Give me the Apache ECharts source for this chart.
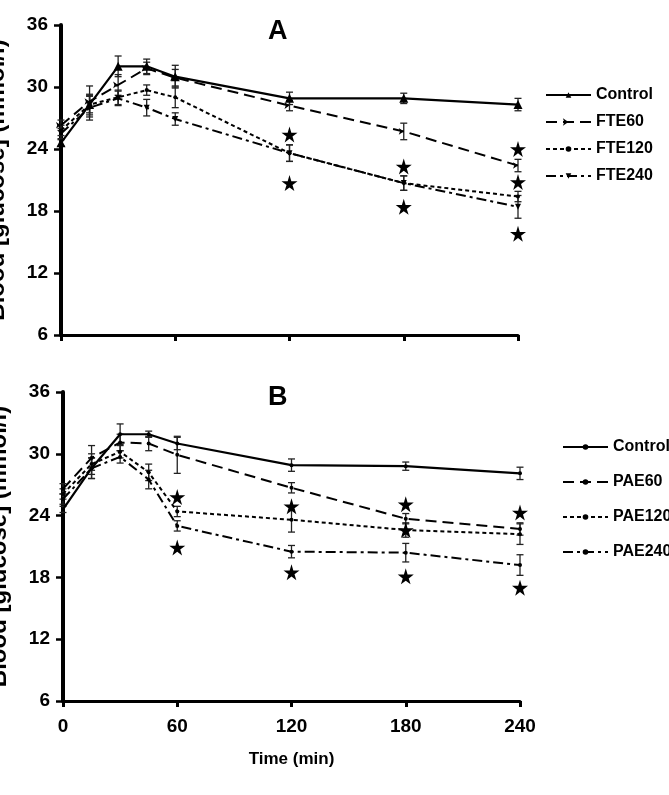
<meta charset="utf-8">
<script src="https://cdn.jsdelivr.net/npm/echarts/dist/echarts.min.js"></script>
<style>body{margin:0;background:#fff}</style>
<div id="mainA" style="position:absolute;left:0;top:0;width:669px;height:365px"></div>
<div id="mainB" style="position:absolute;left:0;top:365px;width:669px;height:430px"></div>

<script type="text/javascript">
// time points (min)
const times = [0, 15, 30, 45, 60, 120, 180, 240]

// panel A
const ctrlA = [24.6, 28.3, 32.0, 32.0, 31.0, 28.9, 28.9, 28.3]
const ctrlAErr = [0.3, 0.8, 1.0, 0.7, 1.1, 0.6, 0.5, 0.6]
const fte60 = [26.3, 28.6, 30.2, 31.8, 30.9, 28.2, 25.7, 22.4]
const fte60Err = [0.5, 1.5, 1.0, 0.6, 0.8, 0.5, 0.8, 0.6]
const fte120 = [25.8, 28.3, 29.0, 29.7, 29.0, 23.6, 20.7, 19.4]
const fte120Err = [0.5, 1.0, 0.7, 0.5, 1.0, 0.8, 0.7, 0.5]
const fte240 = [25.5, 28.0, 28.9, 28.0, 26.9, 23.6, 20.7, 18.4]
const fte240Err = [0.5, 1.2, 0.7, 0.8, 0.6, 0.8, 0.7, 1.1]
const starsA = [[120, 25.4], [120, 20.7], [180, 22.3], [180, 18.4], [240, 24.0], [240, 20.8], [240, 15.8]]

// panel B
const ctrlB = [24.6, 28.6, 31.9, 31.9, 31.0, 28.9, 28.8, 28.1]
const ctrlBErr = [0.3, 1.0, 1.0, 0.3, 0.6, 0.6, 0.4, 0.6]
const pae60 = [26.6, 29.6, 31.1, 31.0, 29.9, 26.7, 23.7, 22.7]
const pae60Err = [0.5, 1.2, 0.8, 0.7, 1.8, 0.5, 0.5, 0.6]
const pae120 = [26.1, 29.0, 30.2, 28.2, 24.4, 23.6, 22.6, 22.2]
const pae120Err = [0.5, 1.0, 0.6, 0.8, 0.5, 1.2, 0.7, 1.0]
const pae240 = [25.6, 28.6, 29.7, 27.5, 23.0, 20.5, 20.4, 19.2]
const pae240Err = [0.5, 1.0, 0.6, 0.9, 0.5, 0.6, 0.9, 1.0]
const starsB = [[60, 25.8], [60, 20.9], [120, 24.9], [120, 18.5], [180, 25.1], [180, 22.6], [180, 18.1], [240, 24.3], [246, 21.7], [240, 17.0]]

const FONT = '"Liberation Sans", Arial, sans-serif'
const STAR = 'path://M50,0 L61,35 L98,35 L68,57 L79,91 L50,70 L21,91 L32,57 L2,35 L39,35 Z'

const styles = [
  {type: 'solid', sym: 'triangle', size: 9, rot: 0},
  {type: [11, 6], sym: 'arrow', size: 5, rot: -90},
  {type: [4, 3], sym: 'circle', size: 4, rot: 0},
  {type: [10, 4, 3, 4], sym: 'triangle', size: 6, rot: 180},
]

const errSeries = (vals, errs) => ({
  type: 'custom',
  silent: true,
  z: 3,
  data: times.map((t, i) => [t, vals[i] - errs[i], vals[i] + errs[i]]),
  renderItem: (params, api) => {
    const lo = api.coord([api.value(0), api.value(1)])
    const hi = api.coord([api.value(0), api.value(2)])
    const w = 3.5
    const st = {stroke: '#222', lineWidth: 1.3}
    return {type: 'group', children: [
      {type: 'line', shape: {x1: lo[0], y1: lo[1], x2: hi[0], y2: hi[1]}, style: st},
      {type: 'line', shape: {x1: lo[0]-w, y1: lo[1], x2: lo[0]+w, y2: lo[1]}, style: st},
      {type: 'line', shape: {x1: hi[0]-w, y1: hi[1], x2: hi[0]+w, y2: hi[1]}, style: st},
    ]}
  }
})

const getopt = (cfg) => ({
  backgroundColor: '#fff',
  animation: false,
  title: {
    text: cfg.title, left: 268, top: cfg.titleTop, padding: 0,
    textStyle: {fontFamily: FONT, fontSize: 27, fontWeight: 'bold', color: '#000'}
  },
  legend: {
    orient: 'vertical', left: cfg.legLeft, top: cfg.legTop, padding: 0,
    itemWidth: 45, itemHeight: 7, itemGap: cfg.legGap,
    data: cfg.names,
    textStyle: {fontFamily: FONT, fontSize: 16, fontWeight: 'bold', color: '#000'}
  },
  grid: {left: cfg.left, right: 669 - cfg.right, top: cfg.top, bottom: cfg.bottom,
    containLabel: false, outerBoundsMode: 'none'},
  xAxis: {
    type: 'value', min: 0, max: 240, interval: 60,
    name: cfg.xName, nameLocation: 'middle', nameGap: 50,
    nameTextStyle: {fontFamily: FONT, fontSize: 17, fontWeight: 'bold', color: '#000'},
    axisLine: {lineStyle: {color: '#000', width: 3}},
    axisTick: {length: 6, lineStyle: {color: '#000', width: 3}},
    axisLabel: {show: cfg.xLabels, fontFamily: FONT, fontSize: 19, fontWeight: 'bold', color: '#000', margin: 16},
    splitLine: {show: false}
  },
  yAxis: {
    type: 'value', min: 6, max: 36, interval: 6,
    name: 'Blood [glucose] (mmol/l)', nameLocation: 'middle', nameGap: 52,
    nameTextStyle: {fontFamily: FONT, fontSize: 24, fontWeight: 'bold', color: '#000'},
    axisLine: {lineStyle: {color: '#000', width: 4}},
    axisTick: {length: 7, lineStyle: {color: '#000', width: 2.5}},
    axisLabel: {fontFamily: FONT, fontSize: 19, fontWeight: 'bold', color: '#000', margin: 13},
    splitLine: {show: false}
  },
  series: [
    ...cfg.lines.map((v, k) => errSeries(v, cfg.errs[k])),
    ...cfg.lines.map((v, k) => ({
      name: cfg.names[k],
      type: 'line',
      z: 4,
      data: times.map((t, i) => [t, v[i]]),
      symbol: cfg.small ? 'circle' : styles[k].sym,
      symbolSize: cfg.small ? 4 : styles[k].size,
      symbolRotate: cfg.small ? 0 : styles[k].rot,
      itemStyle: {color: '#000'},
      lineStyle: {color: '#000', width: k === 0 ? 2.2 : 2, type: styles[k].type}
    })),
    {
      type: 'scatter', z: 5, silent: true,
      data: cfg.stars, symbol: STAR, symbolSize: 16,
      itemStyle: {color: '#000', opacity: 1}
    }
  ]
})

const chA = echarts.init(mainA)
chA.setOption(getopt({
  title: 'A', titleTop: 18,
  left: 61, right: 518, top: 25, bottom: 30,
  legLeft: 545, legTop: 87, legGap: 11,
  names: ['Control', 'FTE60', 'FTE120', 'FTE240'],
  lines: [ctrlA, fte60, fte120, fte240],
  errs: [ctrlAErr, fte60Err, fte120Err, fte240Err],
  stars: starsA, xLabels: false, xName: '', small: false
}))

const chB = echarts.init(mainB)
chB.setOption(getopt({
  title: 'B', titleTop: 19,
  left: 63, right: 520, top: 27, bottom: 94,
  legLeft: 562, legTop: 74, legGap: 19,
  names: ['Control', 'PAE60', 'PAE120', 'PAE240'],
  lines: [ctrlB, pae60, pae120, pae240],
  errs: [ctrlBErr, pae60Err, pae120Err, pae240Err],
  stars: starsB, xLabels: true, xName: 'Time (min)', small: true
}))
</script>
